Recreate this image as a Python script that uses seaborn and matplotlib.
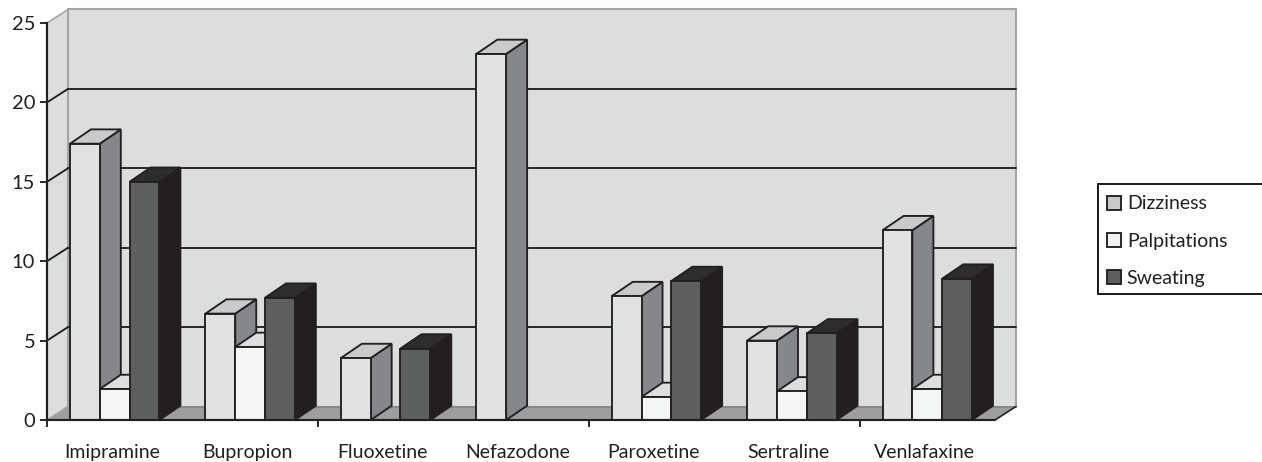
import matplotlib
matplotlib.use("Agg")
import matplotlib.pyplot as plt
from matplotlib.lines import Line2D
from matplotlib.patches import Patch, Polygon
from matplotlib.transforms import IdentityTransform, Affine2D
import numpy as np
import pandas as pd
import seaborn as sns

# Rates per drug and symptom; NaN means no bar was reported
drugs = ["Imipramine", "Bupropion", "Fluoxetine", "Nefazodone", "Paroxetine", "Sertraline", "Venlafaxine"]
symptoms = ["Dizziness", "Palpitations", "Sweating"]
dizziness = [17.4, 6.7, 3.9, 23.05, 7.8, 5.0, 11.95]
palpitations = [1.95, 4.6, np.nan, np.nan, 1.45, 1.8, 1.95]
sweating = [15.0, 7.7, 4.5, np.nan, 8.75, 5.45, 8.9]
y_ticks = [0, 5, 10, 15, 20, 25]

# Shades for each symptom: front, top and side faces
front_colors = ["#e1e2e4", "#f4f6f5", "#5c5e60"]
top_colors = ["#c9cacc", "#dcddde", "#2e2c2d"]
side_colors = ["#85878a", "#a9abad", "#231f20"]
legend_colors = ["#c9cacc", "#f0f2f1", "#5c5e60"]
INK = "#231f20"
WALL = "#dcdddf"
FLOOR = "#9c9ea0"
EDGE_GREY = "#a3a5a7"

# Receding offset of the extruded chart, in pixels
DEPTH_X, DEPTH_Y = 21, 13.5
BAR_DEPTH_Y = 14.3
LW = 1.35
LABEL_SIZE = 14

sns.set_style("white")
plt.rcParams["font.family"] = ["Lato", "DejaVu Sans"]

W, H = 1262, 462
fig = plt.figure(figsize=(W / 100, H / 100), dpi=100)
ax = fig.add_axes([47 / W, 1 - 420 / H, 948 / W, 397 / H])
ax.patch.set_visible(False)

table = pd.DataFrame({
    "drug": np.repeat(drugs, len(symptoms)),
    "symptom": symptoms * len(drugs),
    "rate": np.column_stack([dizziness, palpitations, sweating]).ravel(),
})
sns.barplot(
    data=table, x="drug", y="rate", hue="symptom", order=drugs, hue_order=symptoms,
    palette=dict(zip(symptoms, front_colors)), saturation=1, width=0.66, gap=0,
    errorbar=None, edgecolor=INK, linewidth=LW, legend=False, ax=ax,
)
ax.set_xlim(-0.5, len(drugs) - 0.5)
ax.set_ylim(y_ticks[0], y_ticks[-1])
ax.set_xlabel("")
ax.set_ylabel("")


def to_px(x, y, deep=False, dy=DEPTH_Y):
    px, py = ax.transData.transform((x, y))
    return (px + DEPTH_X, py + dy) if deep else (px, py)


def add_face(points, color, z, edge="none", lw=0):
    ax.add_patch(Polygon(points, closed=True, facecolor=color, edgecolor=edge, linewidth=lw,
                         transform=IdentityTransform(), clip_on=False, zorder=z, joinstyle="miter"))


def add_line(a, b, color, z, lw=LW):
    ax.add_line(Line2D([a[0], b[0]], [a[1], b[1]], color=color, lw=lw,
                       transform=IdentityTransform(), clip_on=False, zorder=z))


x0, x1 = ax.get_xlim()
y_top = y_ticks[-1]

# Back wall, side wall and floor
add_face([to_px(x0, 0, True), to_px(x1, 0, True), to_px(x1, y_top, True), to_px(x0, y_top, True)], WALL, 0.5)
add_face([to_px(x0, 0), to_px(x0, 0, True), to_px(x0, y_top, True), to_px(x0, y_top)], WALL, 0.5)
add_face([to_px(x0, 0), to_px(x1, 0), to_px(x1, 0, True), to_px(x0, 0, True)], FLOOR, 0.6)
add_line(to_px(x0, 0, True), to_px(x1, 0, True), "#87898b", 0.7, 1.5)
add_line(to_px(x0, 0, True), to_px(x0, y_top, True), EDGE_GREY, 0.8, 1.5)
add_line(to_px(x0, y_top, True), to_px(x1, y_top, True), EDGE_GREY, 0.8, 1.5)
add_line(to_px(x1, 0, True), to_px(x1, y_top, True), EDGE_GREY, 0.8, 1.5)
add_line(to_px(x0, y_top), to_px(x0, y_top, True), EDGE_GREY, 0.8, 1.2)
add_line(to_px(x0, 0), to_px(x0, 0, True), EDGE_GREY, 0.8, 1.2)
add_line(to_px(x1, 0), to_px(x1, 0, True), INK, 0.85, 1.2)

# Gridlines run along the side wall and then across the back wall
for tick in y_ticks[1:-1]:
    add_line(to_px(x0, tick), to_px(x0, tick, True), INK, 0.9)
    add_line(to_px(x0, tick, True), to_px(x1, tick, True), INK, 0.9)

# Extrude every bar from the rectangle the bar plot produced
for k, container in enumerate(ax.containers):
    for bar in container:
        h = bar.get_height()
        if not np.isfinite(h) or h <= 0:
            bar.set_visible(False)
            continue
        left, right = bar.get_x(), bar.get_x() + bar.get_width()
        z = 3 + k
        bar.set_zorder(z + 0.5)
        add_face([to_px(right, 0), to_px(right, 0, True, BAR_DEPTH_Y), to_px(right, h, True, BAR_DEPTH_Y), to_px(right, h)],
                 side_colors[k], z, INK, LW)
        add_face([to_px(left, h), to_px(right, h), to_px(right, h, True, BAR_DEPTH_Y), to_px(left, h, True, BAR_DEPTH_Y)],
                 top_colors[k], z + 0.1, INK, LW)

# Axes, ticks and labels
sns.despine(ax=ax, top=True, right=True)
for side in ("left", "bottom"):
    ax.spines[side].set_linewidth(LW + 0.2)
    ax.spines[side].set_color(INK)
    ax.spines[side].set_zorder(10)
ax.set_yticks(y_ticks, [str(v) for v in y_ticks])
ax.set_xticks(range(len(drugs)), drugs)
ax.set_xticks(np.arange(x0, x1 - 0.5, 2), minor=True)
ax.tick_params(axis="x", which="major", length=0, pad=17, labelsize=LABEL_SIZE, labelcolor=INK)
ax.tick_params(axis="x", which="minor", bottom=True, length=5, width=LW, color=INK)
ax.tick_params(axis="y", left=True, length=5, width=LW, color=INK, pad=3.5, labelsize=LABEL_SIZE + 0.5, labelcolor=INK)

# Category names sit slightly left of their group centres
for label in ax.get_xticklabels():
    label.set_transform(label.get_transform() + Affine2D().translate(-3, 0))

# Legend box runs off the right edge of the figure
box_x, box_top, box_bottom = 1098 / W, 1 - 184 / H, 1 - 294 / H
for xs, ys in (([box_x, 1], [box_top, box_top]), ([box_x, 1], [box_bottom, box_bottom]),
               ([box_x, box_x], [box_top, box_bottom])):
    fig.add_artist(Line2D(xs, ys, color=INK, lw=LW + 0.1, transform=fig.transFigure))
handles = [Patch(facecolor=c, edgecolor=INK, linewidth=LW, label=s) for c, s in zip(legend_colors, symptoms)]
fig.legend(
    handles=handles, loc="center left", bbox_to_anchor=(1107 / W, 1 - 241 / H), frameon=False,
    borderpad=0, borderaxespad=0, fontsize=LABEL_SIZE, labelcolor=INK, handlelength=0.72, handleheight=0.72,
    handletextpad=0.3, labelspacing=1.03,
)

fig.savefig("out.png", dpi=100)
